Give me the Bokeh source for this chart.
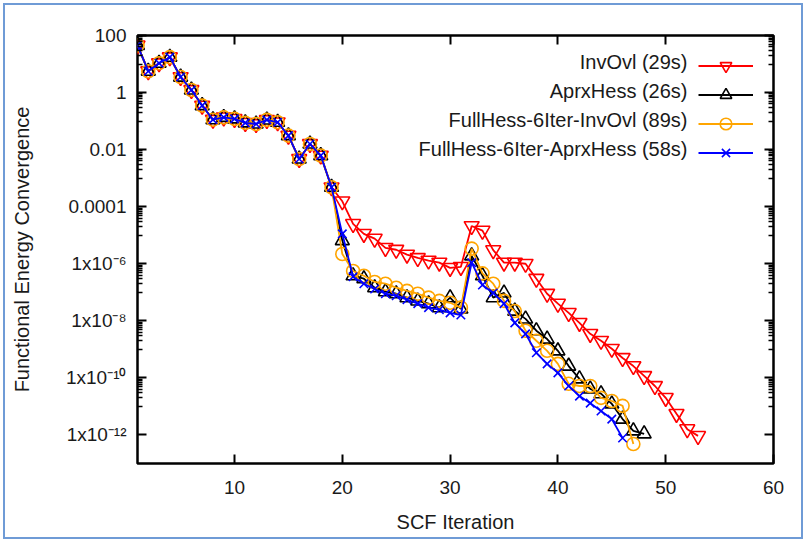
from bokeh.plotting import figure
from bokeh.models import (LinearAxis, LogAxis, FixedTicker, CustomJSTickFormatter,
                          Legend, LegendItem, Label, Range1d, ColumnDataSource)
from bokeh.core.properties import value
from bokeh.embed import file_html
from bokeh.resources import INLINE

# ---- data ----
common_start = [45, 5.6, 10.7, 17.4, 3.5, 1.23, 0.35, 0.112, 0.135, 0.12,
                0.087, 0.079, 0.11, 0.091, 0.031, 0.0047, 0.0158, 0.0062, 0.00048]

inv_ovl_tail = [1.55e-4, 2.5e-5, 1.12e-5, 7.6e-6, 3.6e-6, 3.1e-6, 2.1e-6, 1.6e-6,
                1.3e-6, 1.1e-6, 7.2e-7, 7.8e-7, 2.1e-5, 1.45e-5, 3.0e-6, 1.1e-6,
                1.1e-6, 1.0e-6, 3.0e-7, 8.9e-8, 4.0e-8, 1.9e-8, 8.5e-9, 3.5e-9,
                2.0e-9, 1.05e-9, 5.0e-10, 2.6e-10, 1.17e-10, 5.2e-11, 2.0e-11,
                5.5e-12, 1.6e-12, 9.3e-13]

aprx_hess_tail = [6.5e-6, 3.8e-7, 3.0e-7, 1.45e-7, 1.05e-7, 8.9e-8, 6.5e-8, 5.0e-8,
                  4.0e-8, 2.9e-8, 6.5e-8, 2.6e-8, 1.9e-6, 3.8e-7, 6.5e-8, 9.5e-8,
                  2.2e-8, 1.17e-8, 4.5e-9, 2.3e-9, 8.9e-10, 2.6e-10, 9.3e-11,
                  4.1e-11, 2.8e-11, 1.23e-11, 3.6e-12, 1.4e-12, 1.1e-12]

full_inv_tail = [2.2e-6, 5.6e-7, 3.8e-7, 2.3e-7, 2.0e-7, 1.45e-7, 1.12e-7, 8.9e-8,
                 6.5e-8, 5.0e-8, 4.3e-8, 2.9e-8, 3.4e-6, 4.6e-7, 2.0e-7, 5.0e-8,
                 2.2e-8, 4.5e-9, 2.0e-9, 8.9e-10, 3.1e-10, 6.2e-11, 5.2e-11,
                 5.2e-11, 2.0e-11, 1.55e-11, 1.05e-11, 4.8e-13]

full_aprx_tail = [1.12e-5, 3.5e-7, 2.0e-7, 1.3e-7, 8.9e-8, 7.6e-8, 5.5e-8, 4.0e-8,
                  2.9e-8, 2.45e-8, 1.9e-8, 1.6e-8, 1.1e-6, 1.8e-7, 9.5e-8, 4.0e-8,
                  8.5e-9, 3.5e-9, 7.6e-10, 3.1e-10, 1.5e-10, 5.2e-11, 2.3e-11,
                  1.3e-11, 6.9e-12, 3.6e-12, 7.8e-13]

series_values = [common_start + inv_ovl_tail,
                 common_start + aprx_hess_tail,
                 common_start + full_inv_tail,
                 common_start + full_aprx_tail]
series_names = ["InvOvl (29s)", "AprxHess (26s)",
                "FullHess-6Iter-InvOvl (89s)", "FullHess-6Iter-AprxHess (58s)"]
series_colors = ["#ff0000", "#000000", "#ffa500", "#0000ff"]
series_markers = ["inverted_triangle", "triangle", "circle", "x"]
marker_sizes = [15, 14, 13, 12]

x_ticks = [10, 20, 30, 40, 50, 60]
y_ticks = [1e2, 1.0, 1e-2, 1e-4, 1e-6, 1e-8, 1e-10, 1e-12]
y_tick_labels = ["100", "1", "0.01", "0.0001", "1x10\u207b\u2076", "1x10\u207b\u2078",
                 "1x10\u207b\u00b9\u2070", "1x10\u207b\u00b9\u00b2"]
y_minor = [m * 10.0 ** e for e in (1, -1, -3, -5, -7, -9, -11) for m in range(1, 10)]

FONT = "Liberation Sans"

p = figure(width=806, height=542, y_axis_type="log",
           x_range=Range1d(1, 60), y_range=Range1d(1e-13, 1e2),
           output_backend="svg", toolbar_location=None,
           min_border_left=137, min_border_right=33,
           min_border_top=35, min_border_bottom=79)
p.border_fill_color = None
p.background_fill_color = "white"
p.styles = {"outline": "2px solid #6f9bd6", "outline-offset": "-5px",
            "background-color": "white"}

p.xgrid.visible = False
p.ygrid.visible = False
p.outline_line_color = "black"
p.outline_line_width = 2.5
p.outline_line_alpha = 1.0

renderers = []
for vals, col, mk, ms in zip(series_values, series_colors, series_markers, marker_sizes):
    src = ColumnDataSource(dict(x=list(range(1, len(vals) + 1)), y=vals))
    ln = p.line("x", "y", source=src, line_color=col, line_width=1.8)
    sc = p.scatter("x", "y", source=src, marker=mk, size=ms, line_color=col,
                   fill_color=None, line_width=1.6)
    renderers.append([ln, sc])

fmt = CustomJSTickFormatter(args=dict(tvals=y_ticks, tlabs=y_tick_labels), code="""
let best = 0, bd = 1e9;
for (let i = 0; i < tvals.length; i++) {
  const d = Math.abs(Math.log10(tvals[i]) - Math.log10(tick));
  if (d < bd) { bd = d; best = i; }
}
return tlabs[best];
""")
blank = CustomJSTickFormatter(code='return "";')

def style_axis(ax):
    ax.axis_line_color = None
    ax.major_tick_in = 9
    ax.major_tick_out = 0
    ax.minor_tick_in = 5
    ax.minor_tick_out = 0
    ax.major_tick_line_width = 2
    ax.minor_tick_line_width = 1.5
    ax.major_tick_line_color = "black"
    ax.minor_tick_line_color = "black"
    ax.major_label_text_font = FONT
    ax.major_label_text_font_size = "19px"
    ax.major_label_text_color = "#1a1a1a"
    ax.axis_label_text_font = FONT
    ax.axis_label_text_font_size = "20px"
    ax.axis_label_text_font_style = "normal"
    ax.axis_label_text_color = "#1a1a1a"

xa = p.xaxis[0]
xa.ticker = FixedTicker(ticks=x_ticks, minor_ticks=[])
xa.axis_label = "SCF Iteration"
style_axis(xa)
xa.major_label_standoff = 17
xa.axis_label_standoff = 14

ya = p.yaxis[0]
ya.ticker = FixedTicker(ticks=y_ticks, minor_ticks=y_minor)
ya.formatter = fmt
ya.axis_label = "Functional Energy Convergence"
style_axis(ya)
ya.major_label_standoff = 11
ya.axis_label_standoff = 30

top = LinearAxis(ticker=FixedTicker(ticks=x_ticks, minor_ticks=[]), formatter=blank)
style_axis(top)
top.major_label_standoff = 0
p.add_layout(top, "above")

right = LogAxis(ticker=FixedTicker(ticks=y_ticks, minor_ticks=y_minor), formatter=blank)
style_axis(right)
right.major_label_standoff = 0
p.add_layout(right, "right")

legend = Legend(items=[LegendItem(label=value(" "), renderers=r) for r in renderers],
                location="top_right", margin=16, padding=8, spacing=0,
                glyph_width=55, glyph_height=29, label_width=0, label_standoff=4,
                label_text_font_size="19px", border_line_color=None,
                background_fill_alpha=0.0)
p.add_layout(legend)

# legend texts placed left of the samples (gnuplot style)
for i, name in enumerate(series_names):
    p.add_layout(Label(x=550, y=402 - 29.3 * i, x_units="screen", y_units="screen",
                       text=name, text_align="right", text_baseline="middle",
                       text_font=FONT, text_font_size="20px", text_color="#1a1a1a"))

open("out.html", "w").write(file_html(p, INLINE))
